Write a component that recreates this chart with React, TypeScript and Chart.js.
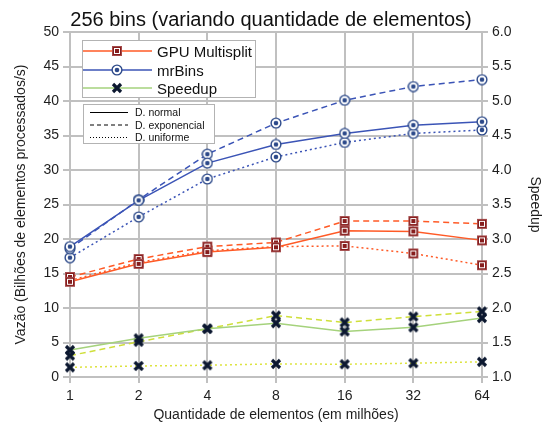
import React, { useEffect, useRef } from 'react';
import { Chart, registerables } from 'chart.js';

Chart.register(...registerables);

const categories = ['1', '2', '4', '8', '16', '32', '64'];

const gpuNormal = [13.8, 16.4, 18.1, 18.8, 21.2, 21.1, 19.8];
const gpuExp = [14.5, 17.1, 18.9, 19.5, 22.6, 22.6, 22.2];
const gpuUniform = [14.0, 16.6, 18.3, 18.9, 19.0, 17.9, 16.2];

const mrNormal = [18.9, 25.6, 31.0, 33.7, 35.3, 36.5, 37.0];
const mrExp = [18.6, 25.7, 32.3, 36.8, 40.1, 42.1, 43.1];
const mrUniform = [17.3, 23.2, 28.7, 31.9, 34.0, 35.3, 35.8];

const spNormal = [1.39, 1.56, 1.7, 1.78, 1.66, 1.72, 1.855];
const spExp = [1.31, 1.51, 1.7, 1.89, 1.79, 1.875, 1.95];
const spUniform = [1.14, 1.16, 1.17, 1.19, 1.185, 1.2, 1.22];

const titleText = '256 bins (variando quantidade de elementos)';
const xTitle = 'Quantidade de elementos (em milhões)';
const yTitle = 'Vazão (Bilhões de elementos processados/s)';
const y1Title = 'Speedup';
const seriesNames = ['GPU Multisplit', 'mrBins', 'Speedup'];
const distNames = ['D. normal', 'D. exponencial', 'D. uniforme'];

const FONT = '"Liberation Sans", Arial, sans-serif';
const GRID = '#c0c0c0';
const TEXT = '#1e1e1e';
const GPU_COLOR = '#ff5a26';
const MR_COLOR = '#3b54b6';
const SP_NORMAL = '#a5d27c';
const SP_EXP = '#cfdf3a';
const SP_UNI = '#dde33f';
const DASH = [6, 4];
const DOT = [2, 3];

function squareMarker(): HTMLCanvasElement {
  const c = document.createElement('canvas');
  c.width = 12;
  c.height = 12;
  const ctx = c.getContext('2d')!;
  ctx.fillStyle = '#861d1d';
  ctx.fillRect(1, 1, 10, 10);
  ctx.strokeStyle = '#a44a4a';
  ctx.lineWidth = 1;
  ctx.strokeRect(1.5, 1.5, 9, 9);
  ctx.strokeStyle = '#ffffff';
  ctx.strokeRect(3.5, 3.5, 5, 5);
  return c;
}

function circleMarker(): HTMLCanvasElement {
  const c = document.createElement('canvas');
  c.width = 12;
  c.height = 12;
  const ctx = c.getContext('2d')!;
  ctx.beginPath();
  ctx.arc(6, 6, 4.9, 0, Math.PI * 2);
  ctx.fillStyle = '#ffffff';
  ctx.fill();
  ctx.lineWidth = 1.4;
  ctx.strokeStyle = '#2d4a8a';
  ctx.stroke();
  ctx.beginPath();
  ctx.arc(6, 6, 2.3, 0, Math.PI * 2);
  ctx.fillStyle = '#2d4a8a';
  ctx.fill();
  return c;
}

function crossMarker(): HTMLCanvasElement {
  const c = document.createElement('canvas');
  c.width = 12;
  c.height = 12;
  const ctx = c.getContext('2d')!;
  ctx.strokeStyle = '#0c1830';
  ctx.lineWidth = 3.2;
  ctx.lineCap = 'butt';
  ctx.beginPath();
  ctx.moveTo(2, 2);
  ctx.lineTo(10, 10);
  ctx.moveTo(10, 2);
  ctx.lineTo(2, 10);
  ctx.stroke();
  return c;
}

export default function App() {
  const ref = useRef<HTMLCanvasElement | null>(null);

  useEffect(() => {
    if (!ref.current) return;
    const sq = squareMarker();
    const ci = circleMarker();
    const cr = crossMarker();

    const mk = (label: string, data: number[], color: string, dash: number[], pt: HTMLCanvasElement, axis: string) => ({
      label,
      data,
      borderColor: color,
      backgroundColor: color,
      borderWidth: 1.5,
      borderDash: dash,
      pointStyle: pt,
      pointRadius: 5,
      pointHoverRadius: 5,
      tension: 0,
      fill: false,
      yAxisID: axis,
    });

    const overlay = {
      id: 'overlay',
      afterDraw(chart: any) {
        const ctx: CanvasRenderingContext2D = chart.ctx;
        ctx.save();
        // title
        ctx.fillStyle = '#111';
        ctx.font = `20px ${FONT}`;
        ctx.textAlign = 'center';
        ctx.textBaseline = 'alphabetic';
        ctx.fillText(titleText, 271, 26);

        // legend 1
        ctx.fillStyle = '#ffffff';
        ctx.fillRect(82, 40, 173, 57);
        ctx.strokeStyle = '#b3b3b3';
        ctx.lineWidth = 1;
        ctx.strokeRect(82.5, 40.5, 173, 57);
        const rows1 = [51, 70, 88];
        const cols1 = [GPU_COLOR, MR_COLOR, SP_NORMAL];
        const mks = [sq, ci, cr];
        rows1.forEach((y, i) => {
          ctx.strokeStyle = cols1[i];
          ctx.lineWidth = 1.5;
          ctx.setLineDash([]);
          ctx.beginPath();
          ctx.moveTo(83, y);
          ctx.lineTo(152, y);
          ctx.stroke();
          ctx.drawImage(mks[i], 117 - 6, y - 6);
          ctx.fillStyle = '#111';
          ctx.font = `15px ${FONT}`;
          ctx.textAlign = 'left';
          ctx.textBaseline = 'alphabetic';
          ctx.fillText(seriesNames[i], 157, y + 5.5);
        });

        // legend 2
        ctx.fillStyle = '#ffffff';
        ctx.fillRect(83, 104, 131, 39);
        ctx.strokeStyle = '#b3b3b3';
        ctx.lineWidth = 1;
        ctx.strokeRect(83.5, 104.5, 131, 39);
        const rows2 = [112.5, 125, 137.5];
        const dashes = [[], [4, 3], [1, 2]];
        rows2.forEach((y, i) => {
          ctx.strokeStyle = '#000';
          ctx.lineWidth = 1;
          ctx.setLineDash(dashes[i]);
          ctx.beginPath();
          ctx.moveTo(90, y);
          ctx.lineTo(128, y);
          ctx.stroke();
          ctx.setLineDash([]);
          ctx.fillStyle = '#111';
          ctx.font = `10.5px ${FONT}`;
          ctx.textAlign = 'left';
          ctx.fillText(distNames[i], 135, y + 3.8);
        });
        ctx.restore();
      },
    };

    const chart = new Chart(ref.current, {
      type: 'line',
      data: {
        labels: categories,
        datasets: [
          mk('Speedup normal', spNormal, SP_NORMAL, [], cr, 'y1'),
          mk('Speedup exp', spExp, SP_EXP, DASH, cr, 'y1'),
          mk('Speedup uniforme', spUniform, SP_UNI, DOT, cr, 'y1'),
          mk('GPU normal', gpuNormal, GPU_COLOR, [], sq, 'y'),
          mk('GPU exp', gpuExp, GPU_COLOR, DASH, sq, 'y'),
          mk('GPU uniforme', gpuUniform, GPU_COLOR, DOT, sq, 'y'),
          mk('mrBins normal', mrNormal, MR_COLOR, [], ci, 'y'),
          mk('mrBins exp', mrExp, MR_COLOR, DASH, ci, 'y'),
          mk('mrBins uniforme', mrUniform, MR_COLOR, DOT, ci, 'y'),
        ] as any,
      },
      options: {
        animation: false,
        responsive: false,
        devicePixelRatio: 1,
        layout: { padding: { top: 32, left: 0, right: 0, bottom: 0 } },
        plugins: {
          legend: { display: false },
          title: { display: false },
          tooltip: { enabled: false },
        },
        scales: {
          x: {
            type: 'category',
            offset: false,
            grid: { color: GRID, lineWidth: 2, tickLength: 6, drawTicks: true },
            border: { color: GRID, width: 2 },
            ticks: { font: { family: FONT, size: 14 }, color: TEXT, padding: 5, maxRotation: 0, autoSkip: false },
            title: {
              display: true,
              text: xTitle,
              font: { family: FONT, size: 14 },
              color: TEXT,
              padding: { top: 0, bottom: 3 },
            },
            afterFit: (s: any) => {
              s.height = 50;
            },
          },
          y: {
            position: 'left',
            min: 0,
            max: 50,
            grid: { color: GRID, lineWidth: 2, tickLength: 7, drawTicks: true },
            border: { color: GRID, width: 2 },
            ticks: { stepSize: 5, font: { family: FONT, size: 14 }, color: TEXT, padding: 4 },
            title: {
              display: true,
              text: yTitle,
              font: { family: FONT, size: 14 },
              color: TEXT,
              padding: { top: 13, bottom: 0 },
            },
            afterFit: (s: any) => {
              s.width = 70;
            },
          },
          y1: {
            position: 'right',
            min: 1,
            max: 6,
            grid: { color: GRID, lineWidth: 2, tickLength: 6, drawTicks: true, drawOnChartArea: false },
            border: { color: GRID, width: 2 },
            ticks: {
              stepSize: 0.5,
              font: { family: FONT, size: 14 },
              color: TEXT,
              padding: 4,
              callback: (v: any) => Number(v).toFixed(1),
            },
            title: {
              display: true,
              text: y1Title,
              font: { family: FONT, size: 14, lineHeight: 1 },
              color: TEXT,
              padding: { top: 0, bottom: 0 },
            },
            afterFit: (s: any) => {
              s.width = 60;
            },
          },
        },
      } as any,
      plugins: [overlay],
    });
    return () => chart.destroy();
  }, []);

  return (
    <div style={{ position: 'absolute', left: 0, top: 0, width: 542, height: 427, background: '#fff' }}>
      <canvas ref={ref} width={542} height={427} style={{ display: 'block' }} />
    </div>
  );
}
